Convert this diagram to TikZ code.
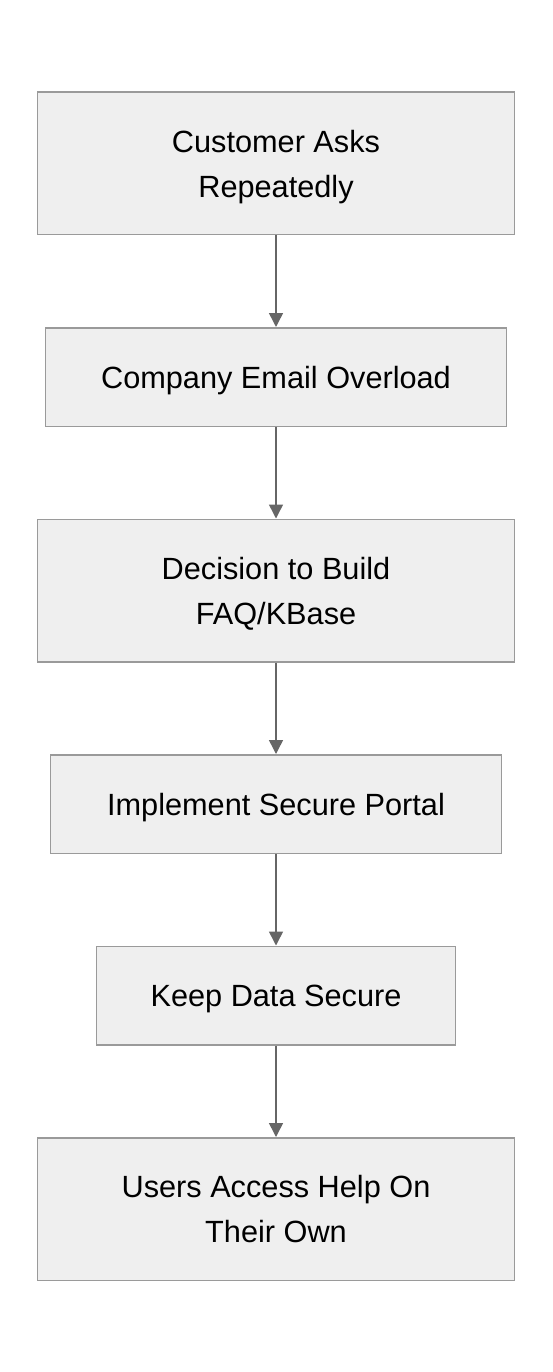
\documentclass[tikz,border=0pt]{standalone}
\usepackage{fontspec}
\setmainfont{Liberation Sans}
\usetikzlibrary{arrows.meta, positioning}

\definecolor{boxfill}{HTML}{EFEFEF}
\definecolor{boxline}{HTML}{9A9A9A}
\definecolor{arrowgray}{HTML}{666666}

\begin{document}
\begin{tikzpicture}[
        x=1pt, y=1pt,
        % Stile per i riquadri
        stepbox/.style={draw=boxline, fill=boxfill, line width=1.5pt,
            inner sep=0pt, align=center, text depth=0pt,
            font=\fontsize{30.7}{45}\selectfont},
        tallbox/.style={stepbox, minimum height=142.5pt},
        shortbox/.style={stepbox, minimum height=98.5pt},
        % Stile per le frecce
        flow/.style={draw=arrowgray, line width=1.5pt,
            -{Triangle[length=14pt, width=14pt]}},
        node distance=91.5pt
    ]

    \useasboundingbox (0,0) rectangle (552,-1372);

    % --- Riquadri ---
    \node[tallbox, minimum width=477pt] (ask) at (276,-163.5)
        {Customer Asks\\Repeatedly};
    \node[shortbox, minimum width=461pt, below=of ask] (email)
        {Company Email Overload};
    \node[tallbox, minimum width=477pt, below=of email] (decide)
        {Decision to Build\\FAQ/KBase};
    \node[shortbox, minimum width=451pt, below=of decide] (portal)
        {Implement Secure Portal};
    \node[shortbox, minimum width=359pt, below=of portal] (secure)
        {Keep Data Secure};
    \node[tallbox, minimum width=477pt, below=of secure] (self)
        {Users Access Help On\\Their Own};

    % --- Frecce ---
    \foreach \from/\to in {ask/email, email/decide, decide/portal,
                           portal/secure, secure/self}
        \draw[flow] (\from) -- (\to);

\end{tikzpicture}
\end{document}
